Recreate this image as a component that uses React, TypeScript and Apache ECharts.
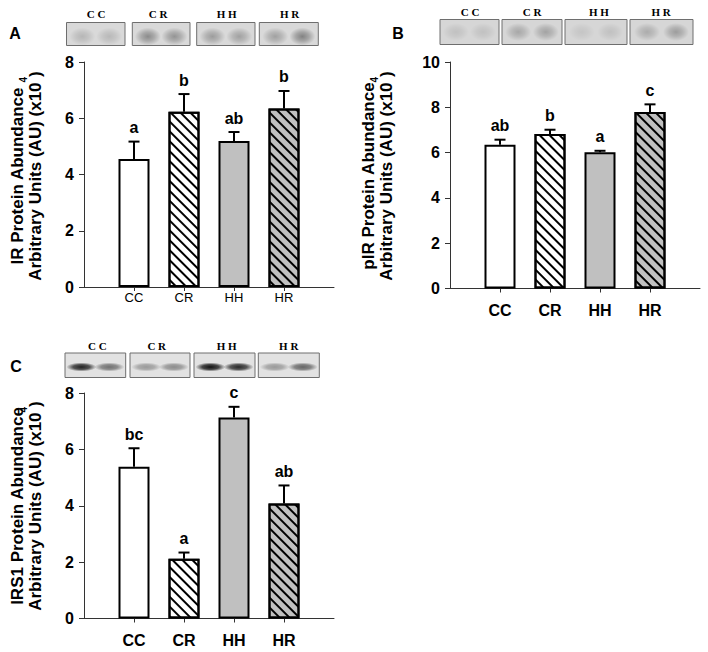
import React, { useEffect, useRef } from 'react';
import * as echarts from 'echarts';

// ---- data ----
const groups = ['CC', 'CR', 'HH', 'HR'];
const axisCats = ['', ...groups, ''];

const irMean = [4.55, 6.23, 5.19, 6.35];
const irErr = [0.62, 0.63, 0.32, 0.62];
const irLetters = ['a', 'b', 'ab', 'b'];

const pirMean = [6.35, 6.82, 6.01, 7.79];
const pirErr = [0.22, 0.19, 0.07, 0.34];
const pirLetters = ['ab', 'b', 'a', 'c'];

const irs1Mean = [5.38, 2.12, 7.13, 4.08];
const irs1Err = [0.66, 0.22, 0.38, 0.64];
const irs1Letters = ['bc', 'a', 'c', 'ab'];

const yMaxA = 8;
const yMaxB = 10;
const yMaxC = 8;
const yStep = 2;

const blotLabels = ['C C', 'C R', 'H H', 'H R'];
// band intensities (two lanes per group)
const blotA = [[0.16, 0.15], [0.36, 0.32], [0.28, 0.26], [0.26, 0.4]];
const blotB = [[0.1, 0.1], [0.22, 0.24], [0.08, 0.1], [0.2, 0.27]];
const blotC = [[0.85, 0.5], [0.32, 0.38], [0.92, 0.82], [0.32, 0.55]];

const FONT = 'Liberation Sans, Arial, sans-serif';
const SERIF = 'Liberation Serif, Times New Roman, serif';

const fills = ['#ffffff', '#ffffff', '#c0c0c0', '#c0c0c0'];
const hatched = [false, true, false, true];
const hatch = {
  symbol: 'rect',
  symbolSize: 1,
  color: '#000',
  dashArrayX: [1, 0],
  dashArrayY: [2, 4.4],
  rotation: Math.PI / 4,
};

function barSeries(idx: number, mean: number[]) {
  return {
    type: 'bar',
    xAxisIndex: idx,
    yAxisIndex: idx,
    barWidth: 31,
    data: axisCats.map((c, i) => {
      if (i === 0 || i === axisCats.length - 1) return '-';
      const k = i - 1;
      const st: any = { color: fills[k], borderColor: '#000', borderWidth: 2 };
      if (hatched[k]) st.decal = hatch;
      return { value: mean[k], itemStyle: st };
    }),
    z: 2,
  };
}

function errSeries(idx: number, mean: number[], err: number[], letters: string[]) {
  return {
    type: 'custom',
    xAxisIndex: idx,
    yAxisIndex: idx,
    clip: false,
    z: 3,
    data: mean.map((m, i) => [i + 1, m, err[i]]),
    renderItem: (params: any, api: any) => {
      const x = api.value(0);
      const m = api.value(1);
      const e = api.value(2);
      const p0 = api.coord([x, m]);
      const p1 = api.coord([x, m + e]);
      return {
        type: 'group',
        children: [
          { type: 'line', shape: { x1: p0[0], y1: p0[1], x2: p1[0], y2: p1[1] }, style: { stroke: '#000', lineWidth: 2 } },
          { type: 'line', shape: { x1: p1[0] - 5.5, y1: p1[1], x2: p1[0] + 5.5, y2: p1[1] }, style: { stroke: '#000', lineWidth: 2 } },
          {
            type: 'text',
            x: p1[0],
            y: p1[1] - 6,
            style: {
              text: letters[params.dataIndex],
              fontSize: 16,
              fontWeight: 'bold',
              fontFamily: FONT,
              fill: '#000',
              align: 'center',
              verticalAlign: 'bottom',
            },
          },
        ],
      };
    },
  };
}

function xAxis(idx: number, bold: boolean, margin: number) {
  return {
    type: 'category',
    gridIndex: idx,
    data: axisCats,
    boundaryGap: false,
    axisLine: { lineStyle: { color: '#333', width: 1 } },
    axisTick: { length: 4, interval: (i: number) => i >= 1 && i <= groups.length, lineStyle: { color: '#333' } },
    axisLabel: {
      interval: 0,
      margin,
      color: '#000',
      fontFamily: FONT,
      fontSize: bold ? 16 : 13,
      fontWeight: bold ? 'bold' : 'normal',
    },
    splitLine: { show: false },
  };
}

function yAxis(idx: number, max: number) {
  return {
    type: 'value',
    gridIndex: idx,
    min: 0,
    max,
    interval: yStep,
    axisLine: { show: true, lineStyle: { color: '#333', width: 1 } },
    axisTick: { show: true, inside: false, length: 5, lineStyle: { color: '#333' } },
    axisLabel: { margin: 10, color: '#000', fontFamily: FONT, fontSize: 16, fontWeight: 'bold' },
    splitLine: { show: false },
  };
}

function blot(rects: number[][], y: number, h: number, bg: string, bands: number[][], bandCy: number, rx: number, ry: number, sharp: boolean) {
  const out: any[] = [];
  rects.forEach((r, k) => {
    out.push({ type: 'rect', shape: { x: r[0], y, width: r[1] - r[0], height: h }, style: { fill: bg, stroke: '#6e6e6e', lineWidth: 1 } });
    const w = r[1] - r[0];
    [0.27, 0.73].forEach((f, j) => {
      const a = bands[k][j];
      out.push({
        type: 'ellipse',
        shape: { cx: r[0] + w * f, cy: bandCy, rx, ry },
        style: {
          fill: {
            type: 'radial', x: 0.5, y: 0.5, r: 0.5,
            colorStops: sharp
              ? [
                  { offset: 0, color: `rgba(0,0,0,${a})` },
                  { offset: 0.55, color: `rgba(0,0,0,${a * 0.75})` },
                  { offset: 1, color: 'rgba(0,0,0,0)' },
                ]
              : [
                  { offset: 0, color: `rgba(0,0,0,${a})` },
                  { offset: 0.5, color: `rgba(0,0,0,${a * 0.6})` },
                  { offset: 1, color: 'rgba(0,0,0,0)' },
                ],
          },
        },
      });
    });
  });
  return out;
}

function blotText(xs: number[], y: number) {
  return xs.map((x, i) => ({
    type: 'text', x, y,
    style: { text: blotLabels[i], fontFamily: SERIF, fontSize: 11, fontWeight: 'bold', fill: '#000', align: 'center', verticalAlign: 'middle' },
  }));
}

function yTitle(line1: string, cx1: number, cx2: number, cy: number) {
  return [
    {
      type: 'text', x: cx1, y: cy, rotation: Math.PI / 2,
      style: { text: line1, fontFamily: FONT, fontSize: 17, fontWeight: 'bold', fill: '#000', align: 'center', verticalAlign: 'middle' },
    },
    {
      type: 'text', x: cx2, y: cy, rotation: Math.PI / 2,
      style: {
        text: '{m|Arbitrary Units (AU) (x10}{s|4}{m|)}',
        align: 'center', verticalAlign: 'middle', fill: '#000',
        rich: {
          m: { fontFamily: FONT, fontSize: 17, fontWeight: 'bold', fill: '#000', lineHeight: 34 },
          s: { fontFamily: FONT, fontSize: 10, fontWeight: 'bold', fill: '#000', verticalAlign: 'top', lineHeight: 10 },
        },
      },
    },
  ];
}

function panelLetter(t: string, x: number, y: number) {
  return { type: 'text', x, y, style: { text: t, fontFamily: FONT, fontSize: 16, fontWeight: 'bold', fill: '#000', align: 'center', verticalAlign: 'middle' } };
}

export default function App() {
  const ref = useRef<HTMLDivElement>(null);
  useEffect(() => {
    document.body.style.margin = '0';
    const chart = echarts.init(ref.current!, undefined, { renderer: 'svg' });
    const graphic: any[] = [
      ...blot([[66.5, 125], [132.3, 190], [196.7, 255], [259.3, 318.3]], 22.5, 23, '#d9d9d9', blotA, 36.5, 13, 9, false),
      ...blot([[440, 499], [502, 562], [565, 627], [630, 693]], 19.5, 25, '#d6d6d6', blotB, 32, 13, 9, false),
      ...blot([[65, 125.7], [130, 190], [194, 255], [258.3, 319.3]], 353, 24.5, '#e2e2e2', blotC, 367, 15, 4.5, true),
      ...blotText([96, 158, 226.7, 289.5], 14),
      ...blotText([470, 532, 599, 661], 11.5),
      ...blotText([97.3, 156.7, 226.7, 288.7], 345.5),
      ...yTitle('IR Protein Abundance', 17, 35, 176),
      ...yTitle('pIR Protein Abundance', 368, 386, 176),
      ...yTitle('IRS1 Protein Abundance', 17, 35, 506),
      panelLetter('A', 15, 33.5),
      panelLetter('B', 398, 33.5),
      panelLetter('C', 16, 366.5),
    ];
    chart.setOption({
      animation: false,
      backgroundColor: '#fff',
      grid: [
        { left: 84, top: 62, width: 250, height: 225 },
        { left: 450, top: 62, width: 250, height: 226.5 },
        { left: 84, top: 393, width: 250, height: 225.5 },
      ],
      xAxis: [xAxis(0, false, 4), xAxis(1, true, 14), xAxis(2, true, 14)],
      yAxis: [yAxis(0, yMaxA), yAxis(1, yMaxB), yAxis(2, yMaxC)],
      series: [
        barSeries(0, irMean),
        barSeries(1, pirMean),
        barSeries(2, irs1Mean),
        errSeries(0, irMean, irErr, irLetters),
        errSeries(1, pirMean, pirErr, pirLetters),
        errSeries(2, irs1Mean, irs1Err, irs1Letters),
      ],
      graphic,
    });
    return () => chart.dispose();
  }, []);
  return <div ref={ref} style={{ width: 708, height: 652 }} />;
}
